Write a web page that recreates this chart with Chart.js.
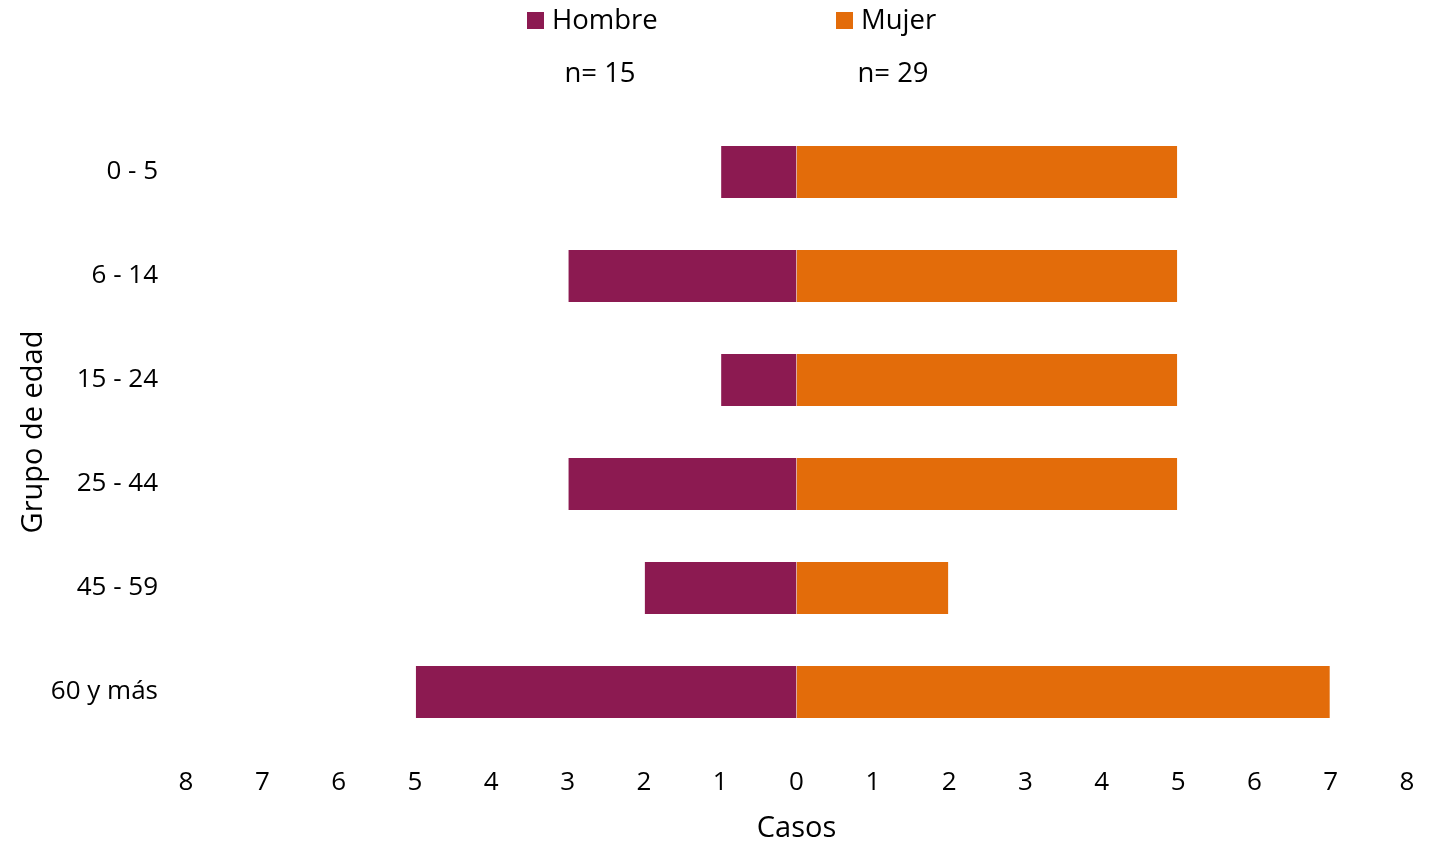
<!DOCTYPE html>
<html>
<head>
<meta charset="utf-8">
<script src="https://cdn.jsdelivr.net/npm/chart.js@4"></script>
<style>
  body { margin: 0; background: #fff; }
  #wrap { width: 1429px; height: 841px; }
</style>
</head>
<body>
<div id="wrap"><canvas id="myChart" width="1429" height="841"></canvas></div>
<script>
var ageGroups = ['0 - 5', '6 - 14', '15 - 24', '25 - 44', '45 - 59', '60 y más'];
var hombre = [1, 3, 1, 3, 2, 5];
var mujer = [5, 5, 5, 5, 2, 7];
var xTicks = [-8, -7, -6, -5, -4, -3, -2, -1, 0, 1, 2, 3, 4, 5, 6, 7, 8];

var FONT = "'Open Sans', sans-serif";
var colHombre = '#8c1a51';
var colMujer = '#e36c0a';

var sum = function (arr) {
    return arr.reduce(function (a, b) { return a + b; }, 0);
};

// legend + n= labels drawn above the bars
var topLegend = {
    id: 'topLegend',
    afterDraw: function (chart) {
        var ctx = chart.ctx;
        var items = [
            { label: 'Hombre', color: colHombre, x: 527, n: sum(hombre), nx: 600 },
            { label: 'Mujer', color: colMujer, x: 836, n: sum(mujer), nx: 893 }
        ];
        ctx.save();
        ctx.font = '27.5px ' + FONT;
        ctx.textBaseline = 'middle';
        items.forEach(function (it) {
            ctx.fillStyle = it.color;
            ctx.fillRect(it.x, 12, 17, 17);
            ctx.fillStyle = '#000';
            ctx.textAlign = 'left';
            ctx.fillText(it.label, it.x + 25, 21);
            ctx.textAlign = 'center';
            ctx.fillText('n= ' + it.n, it.nx, 74);
        });
        ctx.restore();
    }
};

var myChart = new Chart(document.getElementById('myChart').getContext('2d'), {
    type: 'bar',
    data: {
        labels: ageGroups,
        datasets: [{
            label: 'Hombre',
            data: hombre.map(function (v) { return -v; }),
            backgroundColor: colHombre,
            borderColor: 'rgba(255,255,255,0.7)',
            borderWidth: 1
        }, {
            label: 'Mujer',
            data: mujer,
            backgroundColor: colMujer,
            borderColor: 'rgba(255,255,255,0.7)',
            borderWidth: 1
        }]
    },
    options: {
        indexAxis: 'y',
        responsive: false,
        animation: false,
        layout: { padding: { top: 120, right: 22, left: 0, bottom: 0 } },
        plugins: {
            legend: { display: false },
            tooltip: { enabled: false }
        },
        datasets: {
            bar: { categoryPercentage: 1, barPercentage: 0.52 }
        },
        scales: {
            x: {
                stacked: true,
                min: -8,
                max: 8,
                afterBuildTicks: function (scale) {
                    scale.ticks = xTicks.map(function (v) { return { value: v }; });
                },
                afterFit: function (scale) {
                    scale.height = 97;
                    scale.paddingLeft = 0;
                    scale.paddingRight = 8;
                },
                grid: { display: false, drawTicks: false },
                border: { display: false },
                ticks: {
                    padding: 23,
                    color: '#000',
                    font: { family: FONT, size: 26 },
                    maxRotation: 0,
                    callback: function (v) { return Math.abs(v); }
                },
                title: {
                    display: true,
                    text: 'Casos',
                    color: '#000',
                    font: { family: FONT, size: 29 },
                    padding: { top: 4, bottom: -5 }
                }
            },
            y: {
                stacked: true,
                afterFit: function (scale) { scale.width = 186; },
                grid: { display: false, drawTicks: false },
                border: { display: false },
                ticks: {
                    padding: 28,
                    color: '#000',
                    font: { family: FONT, size: 26 }
                },
                title: {
                    display: true,
                    text: 'Grupo de edad',
                    color: '#000',
                    font: { family: FONT, size: 29 },
                    padding: { top: 16, bottom: 0 }
                }
            }
        }
    },
    plugins: [topLegend]
});
</script>
</body>
</html>
